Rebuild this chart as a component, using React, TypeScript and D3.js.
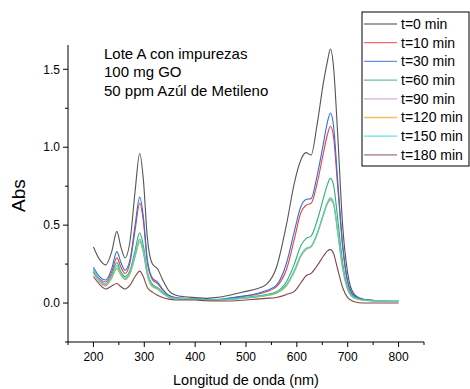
import React from "react";
import * as d3 from "d3";

const wavelengths = [
  200, 212, 224, 236, 246, 254, 262, 272, 282, 291, 298, 306, 316, 326, 336,
  348, 362, 380, 400, 420, 440, 460, 480, 500, 520, 540, 560, 580, 595, 608,
  618, 628, 640, 652, 660, 666, 672, 680, 690, 700, 712, 730, 760, 800,
];

const t0 = [
  0.36, 0.28, 0.245, 0.33, 0.46, 0.36, 0.29, 0.4, 0.72, 0.96, 0.8, 0.42, 0.25,
  0.22, 0.15, 0.08, 0.05, 0.04, 0.035, 0.03, 0.035, 0.045, 0.06, 0.075, 0.09,
  0.12, 0.23, 0.51, 0.77, 0.92, 0.965, 0.95, 1.15, 1.41, 1.55, 1.63, 1.52, 1.1,
  0.5, 0.19, 0.06, 0.025, 0.015, 0.01,
];
const t10 = [
  0.21, 0.155, 0.135, 0.2, 0.29, 0.23, 0.19, 0.26, 0.47, 0.64, 0.53, 0.26,
  0.15, 0.125, 0.085, 0.048, 0.033, 0.028, 0.026, 0.02, 0.02, 0.026, 0.035,
  0.045, 0.055, 0.072, 0.105, 0.22, 0.41, 0.58, 0.628, 0.64, 0.77, 0.96, 1.08,
  1.135, 1.07, 0.76, 0.36, 0.13, 0.045, 0.02, 0.013, 0.01,
];
const t30 = [
  0.23, 0.17, 0.148, 0.22, 0.33, 0.26, 0.21, 0.28, 0.5, 0.68, 0.56, 0.28, 0.16,
  0.135, 0.09, 0.05, 0.035, 0.03, 0.028, 0.022, 0.022, 0.028, 0.038, 0.048,
  0.06, 0.08, 0.115, 0.26, 0.46, 0.62, 0.665, 0.67, 0.82, 1.02, 1.16, 1.22,
  1.14, 0.8, 0.38, 0.14, 0.05, 0.022, 0.015, 0.01,
];
const t60 = [
  0.2, 0.145, 0.12, 0.18, 0.26, 0.2, 0.17, 0.21, 0.34, 0.45, 0.37, 0.2, 0.12,
  0.1, 0.07, 0.042, 0.03, 0.028, 0.026, 0.02, 0.02, 0.024, 0.03, 0.038, 0.045,
  0.055, 0.072, 0.14, 0.25, 0.37, 0.414, 0.43, 0.53, 0.67, 0.76, 0.8, 0.76,
  0.55, 0.26, 0.1, 0.04, 0.02, 0.013, 0.01,
];
const t90 = [
  0.19, 0.135, 0.11, 0.16, 0.22, 0.18, 0.15, 0.19, 0.3, 0.4, 0.33, 0.18, 0.105,
  0.09, 0.062, 0.038, 0.028, 0.026, 0.024, 0.019, 0.019, 0.022, 0.027, 0.033,
  0.039, 0.048, 0.065, 0.115, 0.2, 0.3, 0.345, 0.36, 0.445, 0.565, 0.64, 0.665,
  0.64, 0.465, 0.225, 0.088, 0.035, 0.02, 0.014, 0.012,
];
const t120 = [
  0.215, 0.145, 0.115, 0.165, 0.225, 0.18, 0.155, 0.19, 0.3, 0.39, 0.325,
  0.18, 0.105, 0.09, 0.062, 0.038, 0.028, 0.026, 0.024, 0.018, 0.018, 0.021,
  0.026, 0.032, 0.038, 0.047, 0.063, 0.112, 0.2, 0.3, 0.345, 0.36, 0.44, 0.56,
  0.635, 0.66, 0.635, 0.46, 0.22, 0.085, 0.033, 0.018, 0.013, 0.011,
];
const t150 = [
  0.22, 0.15, 0.12, 0.17, 0.24, 0.19, 0.16, 0.2, 0.31, 0.41, 0.34, 0.19, 0.11,
  0.095, 0.065, 0.04, 0.03, 0.027, 0.025, 0.02, 0.02, 0.023, 0.028, 0.034,
  0.04, 0.05, 0.068, 0.12, 0.21, 0.31, 0.35, 0.365, 0.45, 0.57, 0.645, 0.675,
  0.645, 0.47, 0.23, 0.09, 0.035, 0.02, 0.015, 0.012,
];
const t180 = [
  0.17, 0.12, 0.09, 0.11, 0.125, 0.105, 0.09, 0.115, 0.17, 0.205, 0.17, 0.1,
  0.07, 0.05, 0.035, 0.025, 0.02, 0.02, 0.02, 0.015, 0.013, 0.013, 0.015, 0.02,
  0.025, 0.03, 0.036, 0.055, 0.075, 0.13, 0.175, 0.19, 0.24, 0.3, 0.335, 0.343,
  0.32, 0.22, 0.1, 0.035, 0.01, 0.0, 0.0, 0.0,
];

const seriesNames = [
  "t=0 min",
  "t=10 min",
  "t=30 min",
  "t=60 min",
  "t=90 min",
  "t=120 min",
  "t=150 min",
  "t=180 min",
];
const seriesValues = [t0, t10, t30, t60, t90, t120, t150, t180];
const seriesColors = [
  "#555555",
  "#f03c3c",
  "#2f6fe0",
  "#2fb070",
  "#c090e0",
  "#e8b020",
  "#30d8d8",
  "#804848",
];

const annotation = ["Lote A con impurezas", "100 mg GO", "50 ppm Azúl de Metileno"];

const font = "Arial, 'Liberation Sans', sans-serif";

const App = () => {
  const width = 470;
  const height = 389;
  const left = 68;
  const right = 424;
  const top = 45;
  const bottom = 342;

  const x = d3.scaleLinear().domain([150, 850]).range([left, right]);
  const y = d3.scaleLinear().domain([-0.25, 1.656]).range([bottom, top]);

  const line = d3
    .line<number>()
    .x((_, i) => x(wavelengths[i]))
    .y((d) => y(d))
    .curve(d3.curveMonotoneX);

  const xMajor = d3.range(200, 801, 100);
  const xMinor = d3.range(150, 851, 100);
  const yMajor = [0, 0.5, 1.0, 1.5];
  const yMinor = [-0.25, 0.25, 0.75, 1.25];

  const legendX = 362;
  const legendY = 12;
  const rowH = 18.7;

  return (
    <svg
      width={width}
      height={height}
      style={{ position: "absolute", left: 0, top: 0, background: "#fff" }}
      fontFamily={font}
    >
      {/* curves */}
      <g fill="none" strokeWidth={1.1}>
        {seriesValues.map((vals, i) => (
          <path key={seriesNames[i]} d={line(vals) || ""} stroke={seriesColors[i]} />
        ))}
      </g>

      {/* axes */}
      <line x1={left} y1={top} x2={left} y2={bottom} stroke="#000" />
      <line x1={left} y1={bottom} x2={right} y2={bottom} stroke="#000" />
      {yMajor.map((t) => (
        <g key={t} transform={`translate(${left}, ${y(t)})`}>
          <line x1={-5} x2={0} stroke="#000" />
          <text x={-8} dy="0.35em" textAnchor="end" fontSize={12}>
            {t.toFixed(1)}
          </text>
        </g>
      ))}
      {yMinor.map((t) => (
        <line key={t} x1={left - 3} x2={left} y1={y(t)} y2={y(t)} stroke="#000" />
      ))}
      {xMajor.map((t) => (
        <g key={t} transform={`translate(${x(t)}, ${bottom})`}>
          <line y1={0} y2={5} stroke="#000" />
          <text y={19} textAnchor="middle" fontSize={12}>
            {t}
          </text>
        </g>
      ))}
      {xMinor.map((t) => (
        <line key={t} x1={x(t)} x2={x(t)} y1={bottom} y2={bottom + 3} stroke="#000" />
      ))}

      {/* axis titles */}
      <text x={(left + right) / 2} y={385} textAnchor="middle" fontSize={14.5}>
        Longitud de onda (nm)
      </text>
      <text
        transform={`translate(25, ${(top + bottom) / 2 + 2}) rotate(-90)`}
        textAnchor="middle"
        fontSize={19}
      >
        Abs
      </text>

      {/* annotation */}
      {annotation.map((s, i) => (
        <text key={s} x={104} y={59 + i * 18.3} fontSize={15}>
          {s}
        </text>
      ))}

      {/* legend */}
      <rect
        x={legendX}
        y={legendY}
        width={107}
        height={154}
        fill="#fff"
        stroke="#000"
      />
      {seriesNames.map((name, i) => {
        const cy = legendY + 12 + i * rowH;
        return (
          <g key={name}>
            <line
              x1={legendX + 2}
              x2={legendX + 35}
              y1={cy}
              y2={cy}
              stroke={seriesColors[i]}
              strokeOpacity={0.75}
              strokeWidth={1.3}
            />
            <text x={legendX + 39} y={cy} dy="0.35em" fontSize={14}>
              {name}
            </text>
          </g>
        );
      })}
    </svg>
  );
};

export default App;
